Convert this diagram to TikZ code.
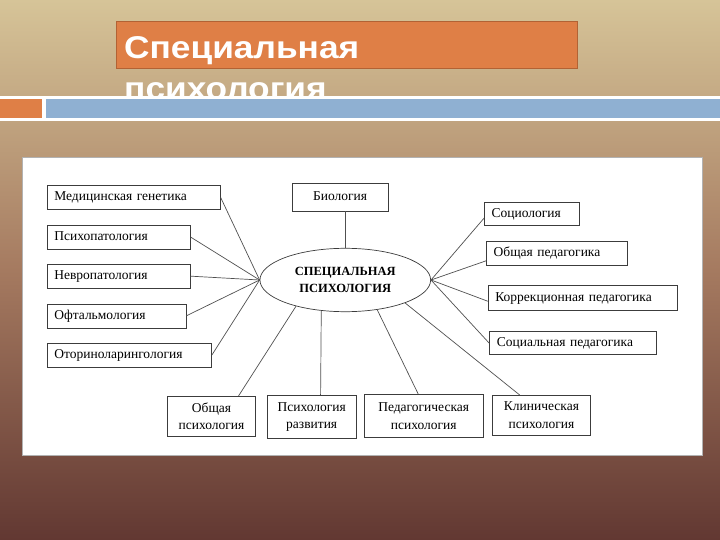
\documentclass[tikz,border=0pt]{standalone}
\usepackage{fontspec}
\setmainfont{Liberation Serif}
\newfontfamily\slidefont[FakeStretch=1.12]{Liberation Sans}
\usetikzlibrary{shapes.geometric, positioning}

\definecolor{titleorange}{RGB}{223,127,70}
\definecolor{titleedge}{RGB}{178,98,52}
\definecolor{barblue}{RGB}{143,176,210}
\definecolor{bgtop}{RGB}{214,196,152}
\definecolor{bgmid}{RGB}{165,122,96}
\definecolor{bgbottom}{RGB}{98,56,50}
\definecolor{boxgray}{RGB}{60,60,60}
\definecolor{linegray}{RGB}{80,80,80}

\begin{document}
\begin{tikzpicture}[x=1pt, y=-1pt, node distance=15pt,
  slidetitle/.style={text=white, inner sep=0pt, font=\slidefont\bfseries\fontsize{31.5}{37}\selectfont},
  field/.style={draw=boxgray, line width=0.7pt, rectangle, fill=white, inner xsep=7.3pt, inner ysep=0pt, minimum height=24pt, text height=9.5pt, text depth=3pt, align=left, font=\fontsize{13.5}{16}\selectfont},
  twofield/.style={draw=boxgray, line width=0.7pt, rectangle, fill=white, inner sep=0pt, align=center, font=\fontsize{13.5}{17.5}\selectfont},
  link/.style={draw=linegray, line width=0.7pt}]
        \useasboundingbox (0,0) rectangle (720,540);
        \shade[top color=bgtop, bottom color=bgbottom, middle color=bgmid] (0,0) rectangle (720,540);

        \filldraw[fill=titleorange, draw=titleedge] (116,21) rectangle (577,68);
        \node[slidetitle, anchor=base west] (titleA) at (124,58.3) {Специальная};
        \node[slidetitle, anchor=base west] (titleB) at (124,100) {психология};
        \fill[white] (0,96.5) rectangle (720,121);
        \fill[titleorange] (0,99.5) rectangle (42,118);
        \fill[barblue] (46,99.5) rectangle (720,118);

        \filldraw[fill=white, draw=black!30] (22,157) rectangle (702,455);

        \node[draw=boxgray, line width=0.7pt, ellipse, minimum width=170.7pt, minimum height=63.4pt, inner sep=0pt, align=center, font=\bfseries\fontsize{12.5}{16.4}\selectfont] (spec) at (345.3,280) {СПЕЦИАЛЬНАЯ\\ПСИХОЛОГИЯ};
        \node[field, align=center, minimum width=96pt, minimum height=27.4pt, anchor=north west] (bio) at (291.7,183.3) {Биология};

        \node[field, text width=158.6pt, anchor=north west] (medgen) at (46.7,185) {Медицинская генетика};
        \node[field, text width=128.6pt, below=15pt of medgen.south west, anchor=north west] (psypat) {Психопатология};
        \node[field, text width=128.3pt, below=14.4pt of psypat.south west, anchor=north west] (nevro) {Невропатология};
        \node[field, text width=124.3pt, below=15pt of nevro.south west, anchor=north west] (oft) {Офтальмология};
        \node[field, text width=150pt, below=14.3pt of oft.south west, anchor=north west] (otor) {Оториноларингология};

        \node[field, text width=80.7pt, minimum height=23.3pt, anchor=north west] (soc) at (484,202) {Социология};
        \node[field, text width=126.1pt, minimum height=23.3pt, below=15.4pt of soc.south west, anchor=north west, xshift=2pt] (obped) {Общая педагогика};
        \node[field, text width=174.4pt, minimum height=25.7pt, below=19.3pt of obped.south west, anchor=north west, xshift=1.7pt] (korr) {Коррекционная педагогика};
        \node[field, text width=151.8pt, minimum height=23pt, below=20.3pt of korr.south west, anchor=north west, xshift=1.6pt] (socped) {Социальная педагогика};

        \node[twofield, minimum width=87.7pt, minimum height=40pt, anchor=north west] (obpsy) at (167.3,396) {Общая\\психология};
        \node[twofield, minimum width=89.3pt, minimum height=43.3pt, anchor=north west] (psyrazv) at (266.7,395) {Психология\\развития};
        \node[twofield, minimum width=118.7pt, minimum height=43.3pt, anchor=north west] (pedpsy) at (364,394) {Педагогическая\\психология};
        \node[twofield, minimum width=97.7pt, minimum height=40pt, anchor=north west] (clinpsy) at (492.3,395) {Клиническая\\психология};

        \draw[link] (spec.north) -- (spec.north |- bio.south);
        \draw[link] (spec.west) -- (medgen.east);
        \draw[link] (spec.west) -- (psypat.east);
        \draw[link] (spec.west) -- (nevro.east);
        \draw[link] (spec.west) -- (oft.east);
        \draw[link] (spec.west) -- (otor.east);
        \draw[link] (spec.east) -- (soc.185);
        \draw[link] (spec.east) -- (obped.186);
        \draw[link] (spec.east) -- (korr.182);
        \draw[link] (spec.east) -- (socped.west);
        \draw[link] (spec.208) -- (obpsy.37.5);
        \draw[link] (spec.232) -- (psyrazv.68);
        \draw[link] (spec.317) -- (pedpsy.104);
        \draw[link] (spec.339) -- (clinpsy.137);
\end{tikzpicture}
\end{document}
